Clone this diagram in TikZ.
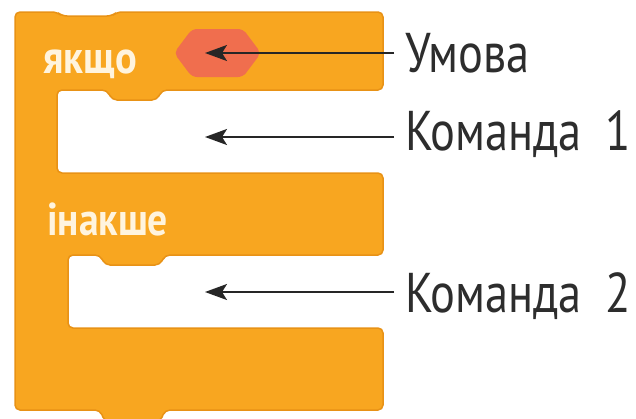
\documentclass[tikz,border=0pt]{standalone}
\usepackage{fontspec}
\setmainfont{PT Sans}
\usepackage{graphicx}
\usepackage{tikz}
\usetikzlibrary{arrows.meta}

\definecolor{blockorange}{RGB}{248,166,32}
\definecolor{blockedge}{RGB}{232,146,22}
\definecolor{condred}{RGB}{240,110,78}
\definecolor{inktext}{RGB}{45,45,45}
\definecolor{blocktext}{RGB}{255,244,222}
\newcommand{\narrowtext}[2][0.83]{\scalebox{#1}[1]{#2}}

\begin{document}
\begin{tikzpicture}[x=1pt, y=-1pt,
		pointer/.style={-{Stealth[length=22pt,width=16pt,inset=5pt]}, line width=2pt, color=black!85},
		notetext/.style={anchor=base west, inner sep=1pt, text=inktext, font=\fontsize{56}{56}\selectfont},
		blockword/.style={anchor=base west, inner sep=0pt, text=blocktext, font=\bfseries\fontsize{46}{46}\selectfont}]
		\useasboundingbox[fill=white] (0,0) rectangle (636,418);
		% if/else block
		\draw[fill=blockorange, draw=blockedge, line width=1.5pt, rounded corners=5pt]
			(15,12) -- (57,12) -- (62,16) -- (112,16) -- (117,12) -- (383,12) -- (383,90)
			-- (162,90) -- (157,100) -- (112,100) -- (107,90) -- (57,90) -- (57,173) -- (383,173) -- (383,255)
			-- (165,255) -- (160,265) -- (105,265) -- (100,255) -- (68,255) -- (68,328) -- (383,328) -- (383,410)
			-- (165,410) -- (160,422) -- (105,422) -- (100,410) -- (15,410) -- cycle;
		\fill[condred, rounded corners=5pt] (174,53) -- (192,29) -- (243,29) -- (261,53) -- (243,77) -- (192,77) -- cycle;
		\node[blockword] (if-word) at (43,73) {\narrowtext[0.88]{якщо}};
		\node[blockword] (else-word) at (47,235) {\narrowtext[0.86]{інакше}};
		
		\coordinate (cond-tip) at (205,53);
		\coordinate (cmd1-tip) at (205,137);
		\coordinate (cmd2-tip) at (205,292);
		\node[notetext] (cond-label) at (404,72) {\narrowtext{Умова}};
		\node[notetext] (cmd1-label) at (404,150) {\narrowtext{Команда\hspace{0.5em}1}};
		\node[notetext] (cmd2-label) at (404,312) {\narrowtext{Команда\hspace{0.5em}2}};
		\draw[pointer] ([xshift=-10pt]cond-label.west |- cond-tip) -- (cond-tip);
		\draw[pointer] ([xshift=-10pt]cmd1-label.west |- cmd1-tip) -- (cmd1-tip);
		\draw[pointer] ([xshift=-10pt]cmd2-label.west |- cmd2-tip) -- (cmd2-tip);
	\end{tikzpicture}
\end{document}
